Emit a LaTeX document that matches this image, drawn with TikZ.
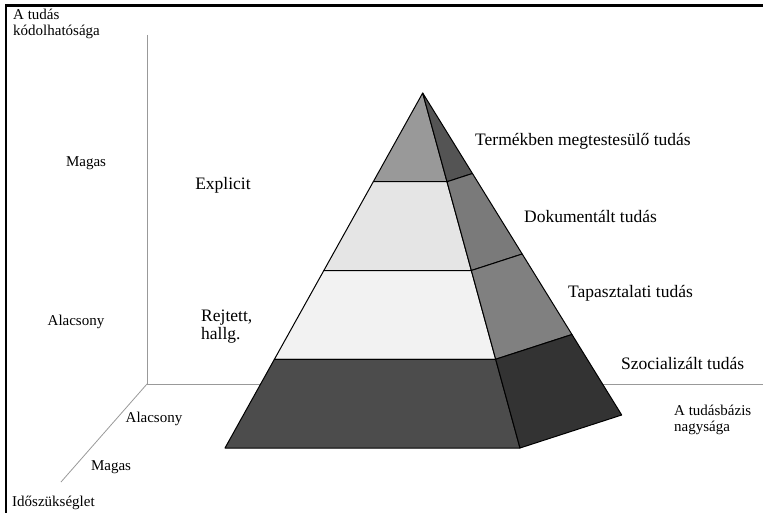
\documentclass[tikz,border=0pt]{standalone}
\usepackage{fontspec}
\setmainfont{Liberation Serif}
\usetikzlibrary{
	calc,               %计算
	positioning        %定位
}
\tikzset{
	every picture/.style={
		>=latex,
		x=1pt,y=-1pt
	},
	axis/.style={draw=black!40,line width=0.8pt},
	face/.style={draw=black,line width=1pt,line join=round},
	biglbl/.style={font=\fontsize{17.5}{18}\selectfont,inner sep=0pt,align=left},
	smalllbl/.style={font=\fontsize{15}{16}\selectfont,inner sep=0pt,align=left}
}

\begin{document}
\begin{tikzpicture}
\useasboundingbox (0,0) rectangle (763,513);
\draw[line width=2.2pt] (6,513) -- (6,5.5) -- (763,5.5);
\coordinate (O) at (147,384);
\draw[axis] (147,35) -- (O) -- (763,384);
\draw[axis] (O) -- (61,482);
\coordinate (apex) at (422.7,93);
\coordinate (bl) at (225,448);
\coordinate (bf) at (520,448);
\coordinate (br) at (621.7,415);
\foreach \a/\b/\cf/\cs in {0/0.25/black!40/black!67, 0.25/0.5/black!10/black!52, 0.5/0.75/black!5/black!50, 0.75/1/black!70/black!80}{
	\filldraw[face,fill=\cf] ($(apex)!\a!(bl)$) -- ($(apex)!\a!(bf)$) -- ($(apex)!\b!(bf)$) -- ($(apex)!\b!(bl)$) -- cycle;
	\filldraw[face,fill=\cs] ($(apex)!\a!(bf)$) -- ($(apex)!\a!(br)$) -- ($(apex)!\b!(br)$) -- ($(apex)!\b!(bf)$) -- cycle;
}
\node[smalllbl,anchor=west] (ytitle) at (13,24) {A tudás\\kódolhatósága};
\node[smalllbl] (yhigh) at (86,163) {Magas};
\node[smalllbl] (ylow) at (76,322) {Alacsony};
\node[biglbl] (explicit) at (223,185) {Explicit};
\node[biglbl,anchor=west] (tacit) at (201,326.5) {Rejtett,\\hallg.};
\node[smalllbl] (zlow) at (154,419) {Alacsony};
\node[smalllbl] (zhigh) at (111,467) {Magas};
\node[smalllbl,anchor=west] (ztitle) at (12,503) {Időszükséglet};
\node[biglbl,anchor=west] (product) at (475,141) {Termékben megtestesülő tudás};
\node[biglbl,anchor=west] (document) at (524,217) {Dokumentált tudás};
\node[biglbl,anchor=west] (experience) at (568,293) {Tapasztalati tudás};
\node[biglbl,anchor=west] (social) at (621,363) {Szocializált tudás};
\node[smalllbl,anchor=west] (xtitle) at (674,420) {A tudásbázis\\nagysága};
\end{tikzpicture}
\end{document}
